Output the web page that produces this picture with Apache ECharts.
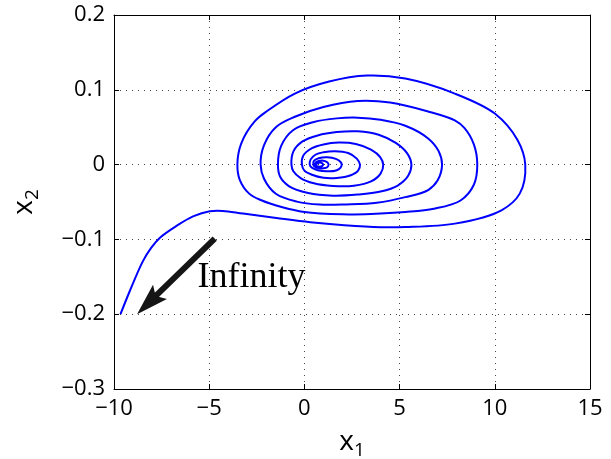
<!DOCTYPE html>
<html>
<head>
<meta charset="utf-8">
<script src="https://cdn.jsdelivr.net/npm/echarts/dist/echarts.min.js"></script>
<style>
  html, body { margin: 0; padding: 0; background: #fff; }
  #chart { width: 611px; height: 459px; }
</style>
</head>
<body>
<div id="chart"></div>
<script>
// Phase-plane trajectory (x1, x2): it leaves the unstable focus near (0.8, 0),
// winds outward one turn at a time and finally escapes to the lower left.

// Axis ticks and their printed labels
const x1TickValues = [-10, -5, 0, 5, 10, 15];
const x1TickLabels = ['\u221210', '\u22125', '0', '5', '10', '15'];
const x2TickValues = [-0.3, -0.2, -0.1, 0, 0.1, 0.2];
const x2TickLabels = ['\u22120.3', '\u22120.2', '\u22120.1', '0', '0.1', '0.2'];

// Turns of the spiral, innermost first; each turn runs from its left
// crossing of x2 = 0 over the top, round the right end, and back along the
// bottom to the next (wider) left crossing.
const turnCore = [
  [0.58, 0], [0.68, 0.0016], [0.82, 0.0028], [0.95, 0.0015], [0.98, 0],
  [0.93, -0.0021], [0.8, -0.0029], [0.66, -0.0021], [0.57, 0]
];
const turn8 = [
  [0.6, 0.003], [0.76, 0.0049], [1.0, 0.0052], [1.2, 0.003], [1.27, 0],
  [1.2, -0.0035], [1.0, -0.005], [0.72, -0.0046], [0.52, -0.0022], [0.47, 0]
];
const turn7 = [
  [0.5, 0.005], [0.75, 0.0085], [1.2, 0.0098], [1.65, 0.0076], [1.9, 0.0035], [1.96, 0],
  [1.9, -0.004], [1.7, -0.0075], [1.2, -0.009], [0.7, -0.0076], [0.38, -0.004], [0.28, 0]
];
const turn6 = [
  [0.33, 0.007], [0.6, 0.0135], [1.0, 0.0165], [1.6, 0.018], [2.3, 0.0155], [2.75, 0.008], [2.92, 0],
  [2.82, -0.008], [2.4, -0.0145], [1.7, -0.0178], [1.0, -0.0175], [0.4, -0.0135], [0.0, -0.008], [-0.13, 0]
];
const turn5 = [
  [-0.06, 0.012], [0.4, 0.022], [1.0, 0.027], [1.8, 0.0294], [2.7, 0.0275], [3.5, 0.02], [3.98, 0.01], [4.14, 0],
  [4.0, -0.012], [3.5, -0.0225], [2.6, -0.0283], [1.5, -0.0286], [0.5, -0.025], [-0.2, -0.018], [-0.58, -0.009], [-0.68, 0]
];
const turn4 = [
  [-0.57, 0.018], [-0.1, 0.031], [0.7, 0.039], [1.7, 0.0435], [2.8, 0.0445], [3.9, 0.04], [4.8, 0.029], [5.4, 0.015], [5.62, 0],
  [5.45, -0.015], [4.9, -0.028], [4.0, -0.036], [2.8, -0.040], [1.5, -0.0415], [0.2, -0.038], [-0.8, -0.029], [-1.28, -0.016], [-1.39, 0]
];
const turn3 = [
  [-1.22, 0.025], [-0.6, 0.046], [0.5, 0.057], [1.7, 0.0618], [2.8, 0.0628], [4.0, 0.06], [5.3, 0.052], [6.5, 0.035], [7.05, 0.018], [7.23, 0],
  [7.0, -0.021], [6.5, -0.034], [5.3, -0.0435], [3.8, -0.051], [2.2, -0.0532], [0.8, -0.0535], [-0.4, -0.0495], [-1.5, -0.039], [-2.12, -0.019], [-2.30, 0]
];
const turn2 = [
  [-2.12, 0.026], [-1.5, 0.05], [-0.5, 0.064], [1.0, 0.077], [2.8, 0.085], [4.5, 0.083], [6.5, 0.071], [7.9, 0.059], [8.4, 0.049], [8.9, 0.027], [9.08, 0],
  [8.9, -0.027], [8.2, -0.048], [6.8, -0.059], [5.3, -0.0634], [3.5, -0.066], [2.0, -0.0665], [0.0, -0.0634], [-1.2, -0.0567], [-2.26, -0.0477], [-2.9, -0.0388], [-3.4, -0.02], [-3.52, 0]
];
const turn1 = [
  [-3.32, 0.028], [-2.6, 0.058], [-1.9, 0.0726], [-0.5, 0.095], [1.3, 0.111], [3.3, 0.119], [5.3, 0.115], [7.9, 0.0949], [10.0, 0.0682], [11.2, 0.0325], [11.6, 0]
];
// Last swing under the spiral and the run-away branch
const escapeBranch = [
  [11.31, -0.0388], [10.35, -0.0611], [7.9, -0.0789], [5.3, -0.0834], [4.0, -0.0836], [2.1, -0.081],
  [0.3, -0.077], [-1.47, -0.0714], [-3.22, -0.0655], [-4.28, -0.062], [-4.97, -0.0624], [-5.85, -0.0692],
  [-6.72, -0.082], [-7.6, -0.098], [-8.04, -0.111], [-8.48, -0.129], [-9.17, -0.169], [-9.66, -0.2]
];

// Annotation: arrow towards infinity and its caption
const arrowFrom = [-4.71, -0.099];
const arrowTo = [-8.79, -0.2];
const captionAt = [-5.59, -0.152];
const captionText = 'Infinity';

const trajectory = [].concat(turnCore, turn8, turn7, turn6, turn5, turn4, turn3, turn2, turn1, escapeBranch);

function tickLabel(values, labels) {
  return function (v) {
    for (let i = 0; i < values.length; i++) {
      if (Math.abs(values[i] - v) < 1e-9) return labels[i];
    }
    return '';
  };
}

// Centripetal Catmull-Rom curve through pixel points, as SVG path data
function splinePath(pts) {
  const n = pts.length;
  let d = 'M' + pts[0][0] + ' ' + pts[0][1];
  const dist = (a, b) => Math.pow(Math.hypot(b[0] - a[0], b[1] - a[1]), 0.5);
  for (let i = 0; i < n - 1; i++) {
    const p0 = pts[Math.max(i - 1, 0)], p1 = pts[i], p2 = pts[i + 1], p3 = pts[Math.min(i + 2, n - 1)];
    const d1 = dist(p0, p1), d2 = dist(p1, p2), d3 = dist(p2, p3);
    let c1 = p1, c2 = p2;
    if (d1 > 1e-6 && d2 > 1e-6) {
      const a = 2 * d1 * d1 + 3 * d1 * d2 + d2 * d2, m = 3 * d1 * (d1 + d2);
      c1 = [(d1 * d1 * p2[0] - d2 * d2 * p0[0] + a * p1[0]) / m,
            (d1 * d1 * p2[1] - d2 * d2 * p0[1] + a * p1[1]) / m];
    }
    if (d3 > 1e-6 && d2 > 1e-6) {
      const b = 2 * d3 * d3 + 3 * d3 * d2 + d2 * d2, m = 3 * d3 * (d3 + d2);
      c2 = [(d3 * d3 * p1[0] - d2 * d2 * p3[0] + b * p2[0]) / m,
            (d3 * d3 * p1[1] - d2 * d2 * p3[1] + b * p2[1]) / m];
    }
    d += 'C' + c1[0] + ' ' + c1[1] + ' ' + c2[0] + ' ' + c2[1] + ' ' + p2[0] + ' ' + p2[1];
  }
  return d;
}

const sansFont = '"Open Sans", "Liberation Sans", sans-serif';
const dotted = { show: true, lineStyle: { color: '#444', width: 1, type: [1, 5] } };
const axisBlack = { show: true, onZero: false, lineStyle: { color: '#000', width: 1 } };
const tickIn = { show: true, inside: true, length: 5, lineStyle: { color: '#000', width: 1 } };
const nameRich = {
  v: { fontFamily: sansFont, fontSize: 28, color: '#000' },
  s: { fontFamily: sansFont, fontSize: 19, color: '#000', padding: [16, 0, 0, 0] }
};
const arrowColor = '#151515';

const chart = echarts.init(document.getElementById('chart'), null, { renderer: 'canvas' });
chart.setOption({
  animation: false,
  backgroundColor: '#fff',
  grid: { left: 114, right: 21, top: 15, bottom: 70, containLabel: false, outerBoundsMode: 'none' },
  xAxis: [
    {
      type: 'value', min: -10, max: 15, interval: 5, position: 'bottom',
      axisLine: axisBlack, axisTick: tickIn, splitLine: dotted,
      axisLabel: { color: '#000', fontFamily: sansFont, fontSize: 22, margin: 9,
                   formatter: tickLabel(x1TickValues, x1TickLabels) },
      name: '{v|x}{s|1}', nameLocation: 'middle', nameGap: 36,
      nameTextStyle: { rich: nameRich }
    },
    {
      type: 'value', min: -10, max: 15, interval: 5, position: 'top',
      axisLine: axisBlack, axisTick: tickIn, splitLine: { show: false },
      axisLabel: { show: false }
    }
  ],
  yAxis: [
    {
      type: 'value', min: -0.3, max: 0.2, interval: 0.1, position: 'left',
      axisLine: axisBlack, axisTick: tickIn, splitLine: dotted,
      axisLabel: { color: '#000', fontFamily: sansFont, fontSize: 22, margin: 9,
                   formatter: tickLabel(x2TickValues, x2TickLabels) },
      name: '{v|x}{s|2}', nameLocation: 'middle', nameGap: 72,
      nameTextStyle: { rich: nameRich }
    },
    {
      type: 'value', min: -0.3, max: 0.2, interval: 0.1, position: 'right',
      axisLine: axisBlack, axisTick: tickIn, splitLine: { show: false },
      axisLabel: { show: false }
    }
  ],
  series: [
    {
      // the trajectory, placed through the axes' scales and drawn as one smooth path
      type: 'custom',
      coordinateSystem: 'cartesian2d',
      data: [[trajectory[0][0], trajectory[0][1]]],
      renderItem: function (params, api) {
        const pts = trajectory.map(p => api.coord(p));
        return {
          type: 'path',
          shape: { pathData: splinePath(pts) },
          style: { fill: 'none', stroke: '#0000ff', lineWidth: 2, lineJoin: 'round' },
          silent: true
        };
      },
      z: 3
    },
    {
      // "Infinity" arrow: thick shaft with a notched head
      type: 'custom',
      coordinateSystem: 'cartesian2d',
      data: [[arrowTo[0], arrowTo[1]]],
      renderItem: function (params, api) {
        const a = api.coord(arrowFrom), b = api.coord(arrowTo);
        const len = Math.hypot(b[0] - a[0], b[1] - a[1]);
        const ux = (b[0] - a[0]) / len, uy = (b[1] - a[1]) / len;
        const px = -uy, py = ux;
        const headLen = 32, headHalf = 10, notch = 26;
        const back = [b[0] - ux * headLen, b[1] - uy * headLen];
        const neck = [b[0] - ux * notch, b[1] - uy * notch];
        return {
          type: 'group',
          silent: true,
          children: [
            {
              type: 'line',
              shape: { x1: a[0], y1: a[1], x2: neck[0] + ux * 2, y2: neck[1] + uy * 2 },
              style: { stroke: arrowColor, lineWidth: 6, lineCap: 'butt' }
            },
            {
              type: 'polygon',
              shape: { points: [
                b,
                [back[0] + px * headHalf, back[1] + py * headHalf],
                neck,
                [back[0] - px * headHalf, back[1] - py * headHalf]
              ] },
              style: { fill: arrowColor }
            }
          ]
        };
      },
      z: 4
    },
    {
      type: 'line',
      data: [],
      markPoint: {
        silent: true,
        symbol: 'circle',
        symbolSize: 1,
        itemStyle: { color: 'rgba(0,0,0,0)' },
        label: {
          show: true, position: [0, 0], align: 'left', verticalAlign: 'middle',
          formatter: captionText, color: '#000',
          fontFamily: '"Liberation Serif", "DejaVu Serif", serif', fontSize: 36
        },
        data: [{ coord: captionAt }]
      },
      z: 4
    }
  ]
});
</script>
</body>
</html>
